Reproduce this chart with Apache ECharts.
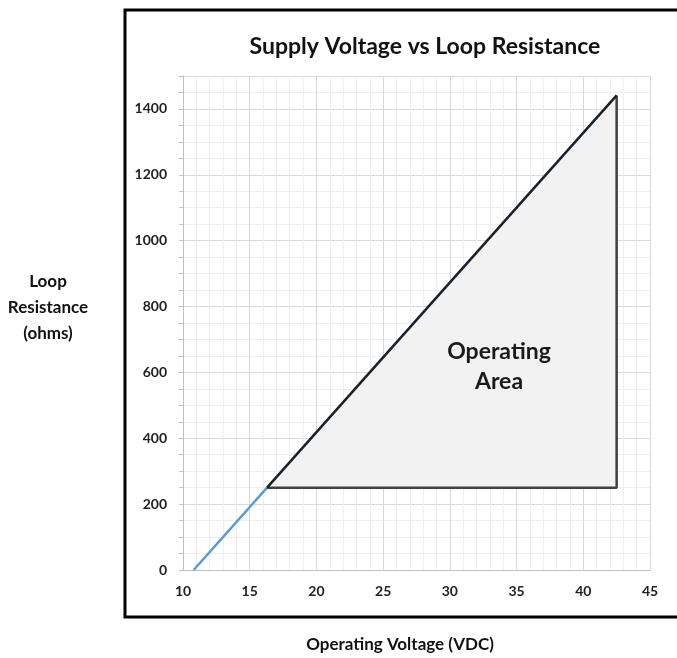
<!DOCTYPE html>
<html>
<head>
<meta charset="utf-8">
<script src="https://cdn.jsdelivr.net/npm/echarts@6/dist/echarts.min.js"></script>
<style>
  html, body { margin: 0; padding: 0; background: #fff; }
  #main { width: 677px; height: 658px; }
</style>
</head>
<body>
<div id="main"></div>
<script>
// data
var blueX = [10.8, 16.3];
var blueY = [0, 250];
var areaX = [16.3, 42.5, 42.5];
var areaY = [250, 1441, 250];
var yTicks = [0, 200, 400, 600, 800, 1000, 1200, 1400];

var FONT = 'Lato';

var chartDom = document.getElementById('main');
var myChart = echarts.init(chartDom);

function pts(xs, ys) {
  var out = [];
  for (var i = 0; i < xs.length; i++) out.push([xs[i], ys[i]]);
  return out;
}

var diag = pts(areaX.slice(0, 2), areaY.slice(0, 2));
var edges = pts([areaX[1], areaX[2], areaX[0]], [areaY[1], areaY[2], areaY[0]]);

var option = {
  animation: false,
  title: {
    text: 'Supply Voltage vs Loop Resistance',
    left: 420, top: 30, textAlign: 'center',
    textStyle: { fontFamily: FONT, fontWeight: 'bold', fontSize: 23, color: '#111' }
  },
  grid: { left: 183, right: 27, top: 76, bottom: 88 },
  xAxis: {
    type: 'value', min: 10, max: 45, interval: 5,
    axisLine: { show: true, onZero: false, lineStyle: { color: '#bfbfbf' } },
    axisTick: { show: false },
    axisLabel: { margin: 14, fontFamily: FONT, fontWeight: 'bold', fontSize: 14, color: '#222' },
    splitLine: { show: true, lineStyle: { color: '#d9d9d9' } },
    minorTick: { show: false, splitNumber: 5 },
    minorSplitLine: { show: true, lineStyle: { color: '#efefef' } },
    z: 1
  },
  yAxis: [{
    type: 'value', min: 0, max: 1500, interval: 200,
    axisLine: { show: true, lineStyle: { color: '#bfbfbf' } },
    axisTick: { show: false },
    axisLabel: {
      margin: 16, fontFamily: FONT, fontWeight: 'bold', fontSize: 14, color: '#222',
      formatter: function (v) { return yTicks.indexOf(v) >= 0 ? String(v) : ''; }
    },
    splitLine: { show: true, lineStyle: { color: '#d9d9d9' } },
    z: 1
  }, {
    type: 'value', min: 0, max: 1500, interval: 50, position: 'left',
    axisLine: { show: false },
    axisTick: { show: true, length: 4, lineStyle: { color: '#bfbfbf' } },
    axisLabel: { show: false },
    splitLine: { show: true, lineStyle: { color: '#efefef' } },
    z: 0
  }],
  graphic: [
    { type: 'rect', shape: { x: 125, y: 10, width: 620, height: 607 },
      style: { fill: 'none', stroke: '#000', lineWidth: 3 }, z: 100 },
    { type: 'text', x: 48, y: 308,
      style: { text: 'Loop\nResistance\n(ohms)', fontFamily: FONT, fontWeight: 'bold', fontSize: 17,
        lineHeight: 26, fill: '#111', align: 'center', verticalAlign: 'middle' } },
    { type: 'text', x: 400, y: 645,
      style: { text: 'Operating Voltage (VDC)', fontFamily: FONT, fontWeight: 'bold', fontSize: 17,
        fill: '#111', align: 'center', verticalAlign: 'middle' } },
    { type: 'text', x: 499, y: 367, z: 50,
      style: { text: 'Operating\nArea', fontFamily: FONT, fontWeight: 'bold', fontSize: 23,
        lineHeight: 30, fill: '#1a1a1a', align: 'center', verticalAlign: 'middle' } }
  ],
  series: [{
    type: 'custom',
    coordinateSystem: 'cartesian2d',
    data: [[areaX[0], areaY[0]]],
    renderItem: function (params, api) {
      var p = [];
      for (var i = 0; i < areaX.length; i++) p.push(api.coord([areaX[i], areaY[i]]));
      return { type: 'polygon', shape: { points: p }, style: { fill: '#f2f2f2' } };
    },
    z: 1
  }, {
    type: 'line', data: pts(blueX, blueY), showSymbol: false,
    lineStyle: { color: '#5b9bd5', width: 2.5 }, z: 3
  }, {
    type: 'line', data: edges, showSymbol: false,
    lineStyle: { color: '#404040', width: 2.5 }, z: 3
  }, {
    type: 'line', data: diag, showSymbol: false,
    lineStyle: { color: '#17212b', width: 2.5 }, z: 4
  }]
};

option && myChart.setOption(option);
</script>
</body>
</html>
